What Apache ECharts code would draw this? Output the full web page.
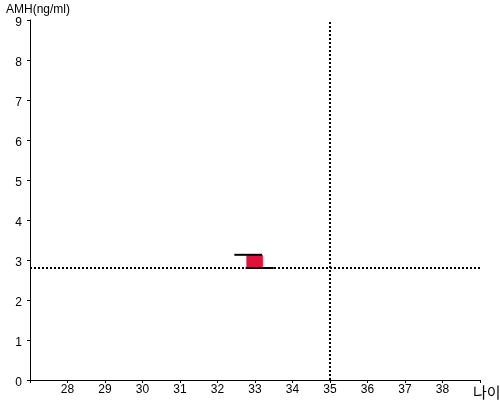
<!DOCTYPE html>
<html><head><meta charset="utf-8">
<script src="https://cdn.jsdelivr.net/npm/echarts@6/dist/echarts.min.js"></script>
<style>html,body{margin:0;padding:0;background:#fff}#c{width:500px;height:400px}</style>
</head><body><div id="c"></div>
<script>
const xName = '나이';
const yName = 'AMH(ng/ml)';
const xMin = 27, xMax = 39;
const yMin = 0, yMax = 9;
const refAge = 35;
const refAmh = 2.8;
const boxAge = [32.77, 33.21];
const boxAmh = [2.8, 3.12];
const upperLineAge = [32.45, 33.19];
const upperLineAmh = 3.13;
const lowerLineAge = [32.75, 33.5];
const lowerLineAmh = 2.8;

const chart = echarts.init(document.getElementById('c'));
const font = 'Liberation Sans, Arial, sans-serif';
chart.setOption({
  animation: false,
  grid: {left: 30, right: 20, top: 20, bottom: 20, containLabel: false, outerBoundsMode: 'none'},
  xAxis: {
    type: 'value', min: xMin, max: xMax, interval: 1,
    name: xName, nameLocation: 'end', nameGap: -7, nameMoveOverlap: false,
    nameTextStyle: {color: '#000', fontSize: 15, fontFamily: 'Noto Sans CJK KR', align: 'left', verticalAlign: 'top', padding: [5, 0, 0, 0]},
    axisLine: {lineStyle: {color: '#000', width: 1}},
    axisTick: {length: 3, lineStyle: {color: '#000'}},
    splitLine: {show: false},
    axisLabel: {color: '#000', fontSize: 12, fontFamily: font, margin: 4,
      formatter: v => (v === xMin || v === xMax) ? '' : String(v)}
  },
  yAxis: {
    type: 'value', min: yMin, max: yMax, interval: 1,
    name: yName, nameLocation: 'end', nameGap: 4, nameMoveOverlap: false,
    nameTextStyle: {color: '#000', fontSize: 12, fontFamily: font, align: 'left', padding: [0, 0, 0, -24]},
    axisLine: {lineStyle: {color: '#000', width: 1}},
    axisTick: {show: true, length: 3, lineStyle: {color: '#000'}},
    splitLine: {show: false},
    axisLabel: {color: '#000', fontSize: 12, fontFamily: font, margin: 8,
      formatter: v => '{v|' + v + '}',
      rich: {v: {fontSize: 12, fontFamily: font, color: '#000', padding: [6, 0, 0, 0]}}}
  },
  series: [
    {
      type: 'line', symbol: 'none', silent: true,
      data: [[upperLineAge[0], upperLineAmh], [upperLineAge[1], upperLineAmh]],
      lineStyle: {color: '#000', width: 2}, z: 5
    },
    {
      type: 'line', symbol: 'none', silent: true,
      data: [[lowerLineAge[0], lowerLineAmh], [lowerLineAge[1], lowerLineAmh]],
      lineStyle: {color: '#000', width: 2}, z: 5,
      markArea: {silent: true, itemStyle: {color: '#dc143c', opacity: 1},
        data: [[{coord: [boxAge[0], boxAmh[0]]}, {coord: [boxAge[1], boxAmh[1]]}]]},
      markLine: {silent: true, symbol: 'none', label: {show: false},
        lineStyle: {color: '#000', width: 2, type: [2, 2]},
        data: [{xAxis: refAge}, {yAxis: refAmh}]}
    }
  ]
});
</script></body></html>
